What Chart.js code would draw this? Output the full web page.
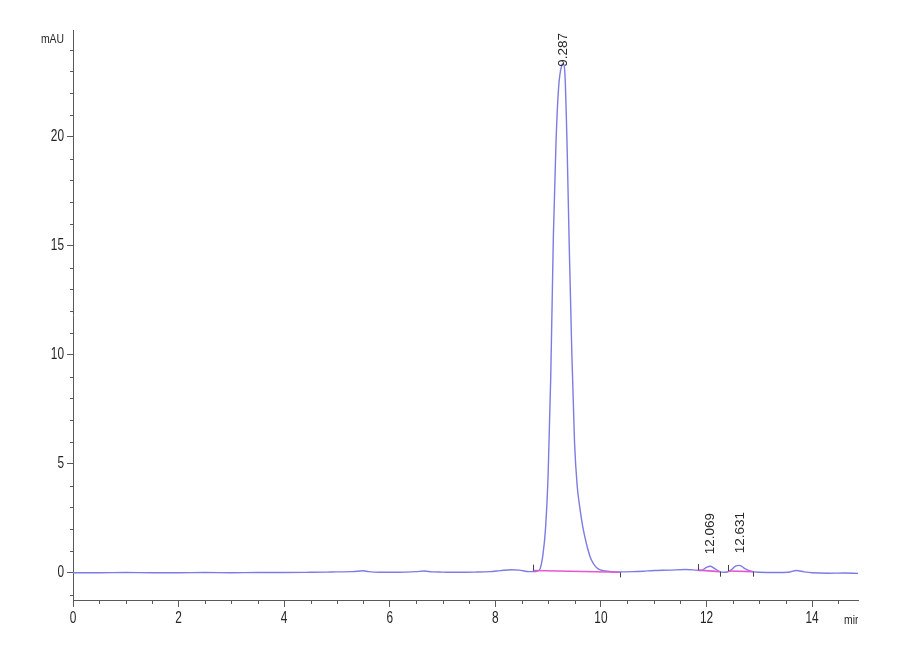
<!DOCTYPE html>
<html>
<head>
<meta charset="utf-8">
<title>Chromatogram</title>
<script src="https://cdn.jsdelivr.net/npm/chart.js@4.4.1/dist/chart.umd.min.js"></script>
<style>
  html, body { margin: 0; padding: 0; background: #fff; }
  #wrap { width: 900px; height: 660px; position: relative; }
</style>
</head>
<body>
<div id="wrap"><canvas id="chart"></canvas></div>
<script>
// ==================== Data ====================
const timeMin = [
  0, 0.5, 1.0, 1.5, 2.0, 2.5, 3.0, 3.5, 4.0, 4.5, 4.8, 5.0, 5.3, 5.5, 5.6, 5.8,
  6.0, 6.3, 6.5, 6.65, 6.8, 7.0, 7.3, 7.6, 7.9, 8.1, 8.3, 8.45, 8.6, 8.7,
  8.8, 8.85, 8.9, 8.95, 9.0, 9.05, 9.1, 9.15, 9.2, 9.25, 9.287, 9.32, 9.36, 9.4,
  9.45, 9.5, 9.55, 9.6, 9.65, 9.7, 9.75, 9.8, 9.85, 9.9, 9.95, 10.0, 10.1, 10.2,
  10.4, 10.6, 10.8, 11.0, 11.3, 11.6, 11.8, 11.9, 12.0, 12.07, 12.15, 12.25,
  12.35, 12.45, 12.55, 12.63, 12.72, 12.85, 13.0, 13.3, 13.55, 13.7, 13.85,
  14.0, 14.3, 14.6, 14.87
];
const signalMau = [
  0, 0, 0.01, 0, 0, 0.01, 0, 0.01, 0.01, 0.02, 0.03, 0.04, 0.05, 0.09, 0.05, 0.02,
  0.02, 0.03, 0.05, 0.08, 0.04, 0.03, 0.02, 0.03, 0.05, 0.1, 0.14, 0.12, 0.06, 0.05,
  0.08, 0.2, 0.8, 2.0, 4.5, 9.0, 15.5, 19.8, 22.3, 23.2, 23.35, 22.8, 19.5, 15.0,
  10.0, 6.0, 4.0, 3.0, 2.2, 1.6, 1.1, 0.7, 0.45, 0.28, 0.18, 0.12, 0.08, 0.05,
  0.04, 0.05, 0.07, 0.1, 0.12, 0.15, 0.12, 0.1, 0.25, 0.3, 0.2, 0.05,
  0.02, 0.1, 0.3, 0.34, 0.2, 0.06, 0.02, 0.01, 0.02, 0.1, 0.04,
  0, -0.02, -0.01, -0.03
];

// integration baselines: [startTime, startValue, endTime, endValue]
const peakBaselines = [
  [8.71, 0.1, 10.36, 0.02],
  [11.84, 0.12, 12.25, 0.05],
  [12.41, 0.08, 12.88, 0.05]
];
const peakLabels = ['9.287', '12.069', '12.631'];
const peakTimes = [9.287, 12.069, 12.631];
const peakHeights = [23.4, 0.3, 0.34];

const xTicks = [0, 2, 4, 6, 8, 10, 12, 14];
const yTicks = [0, 5, 10, 15, 20];
const xMinorStep = 0.5;
const yMinorStep = 1;

// ==================== Styling ====================
const axisColor = '#5a5a5a';
const textColor = '#262626';
const traceColor = 'rgb(124, 124, 228)';
const baselineColor = 'rgb(228, 88, 212)';
const plainFont = "'Liberation Sans', Arial, sans-serif";

// the original's axis fonts are condensed, so squeeze them horizontally
function narrowText(ctx, text, x, y, align, squeeze) {
  ctx.save();
  ctx.translate(x, y);
  ctx.scale(squeeze, 1);
  ctx.textAlign = align;
  ctx.fillText(text, 0, 0);
  ctx.restore();
}

// ==================== Plugin: labels, minor ticks, peak marks ====================
const chromPlugin = {
  id: 'chromPlugin',
  afterDraw(chart) {
    const ctx = chart.ctx;
    const xs = chart.scales.x;
    const ys = chart.scales.y;
    const area = chart.chartArea;

    ctx.save();
    ctx.strokeStyle = axisColor;
    ctx.lineWidth = 1;

    // minor ticks
    for (let t = xs.min; t <= xs.max + 1e-6; t += xMinorStep) {
      if (xTicks.includes(t)) continue;
      const px = Math.round(xs.getPixelForValue(t)) + 0.5;
      ctx.beginPath();
      ctx.moveTo(px, area.bottom);
      ctx.lineTo(px, area.bottom + 4);
      ctx.stroke();
    }
    for (let v = -1; v <= ys.max; v += yMinorStep) {
      if (yTicks.includes(v)) continue;
      const py = Math.round(ys.getPixelForValue(v)) + 0.5;
      ctx.beginPath();
      ctx.moveTo(area.left + 1, py);
      ctx.lineTo(area.left - 3, py);
      ctx.stroke();
    }

    // baseline start / end markers
    ctx.strokeStyle = '#444';
    peakBaselines.forEach(b => {
      const sx = Math.round(xs.getPixelForValue(b[0])) + 0.5;
      const sy = ys.getPixelForValue(b[1]);
      ctx.beginPath();
      ctx.moveTo(sx, sy);
      ctx.lineTo(sx, sy - 6);
      ctx.stroke();
      const ex = Math.round(xs.getPixelForValue(b[2])) + 0.5;
      const ey = ys.getPixelForValue(b[3]);
      ctx.beginPath();
      ctx.moveTo(ex, ey);
      ctx.lineTo(ex, ey + 5);
      ctx.stroke();
    });

    // tick labels
    ctx.fillStyle = textColor;
    ctx.font = '16px ' + plainFont;
    ctx.textBaseline = 'middle';
    xTicks.forEach(t => {
      narrowText(ctx, String(t), xs.getPixelForValue(t), area.bottom + 19, 'center', 0.74);
    });
    yTicks.forEach(v => {
      narrowText(ctx, String(v), area.left - 9, ys.getPixelForValue(v), 'right', 0.74);
    });

    // unit labels
    ctx.font = '13px ' + plainFont;
    narrowText(ctx, 'mAU', area.left - 9, area.top + 9, 'right', 0.8);
    ctx.save();
    ctx.beginPath();
    ctx.rect(0, area.bottom, area.right, 60);
    ctx.clip();
    narrowText(ctx, 'min', area.right - 14, area.bottom + 20, 'left', 0.8);
    ctx.restore();

    // peak retention time labels (rotated)
    ctx.font = '13.5px ' + plainFont;
    ctx.textAlign = 'left';
    ctx.textBaseline = 'middle';
    peakTimes.forEach((t, i) => {
      const px = xs.getPixelForValue(t);
      const py = ys.getPixelForValue(peakHeights[i]) - (i === 0 ? -4 : 12);
      ctx.save();
      ctx.translate(px, py);
      ctx.rotate(-Math.PI / 2);
      ctx.fillText(peakLabels[i], 0, 0);
      ctx.restore();
    });

    ctx.restore();
  }
};

// ==================== Chart ====================
const tracePoints = timeMin.map((t, i) => ({ x: t, y: signalMau[i] }));
const baselineSets = peakBaselines.map(b => ({
  data: [{ x: b[0], y: b[1] }, { x: b[2], y: b[3] }],
  borderColor: baselineColor,
  borderWidth: 1.6,
  pointRadius: 0,
  tension: 0
}));

const ctx = document.getElementById('chart').getContext('2d');
const chart = new Chart(ctx, {
  type: 'line',
  data: {
    datasets: [
      ...baselineSets,
      {
        data: tracePoints,
        borderColor: traceColor,
        borderWidth: 1.4,
        pointRadius: 0,
        cubicInterpolationMode: 'monotone'
      }
    ]
  },
  options: {
    responsive: true,
    maintainAspectRatio: false,
    animation: false,
    layout: { padding: { top: 30, right: 42, left: 0, bottom: 0 } },
    plugins: {
      legend: { display: false },
      tooltip: { enabled: false }
    },
    scales: {
      x: {
        type: 'linear',
        min: 0,
        max: 14.87,
        afterBuildTicks: s => { s.ticks = xTicks.map(v => ({ value: v })); },
        afterFit: s => { s.height = 60; },
        border: { display: true, color: axisColor, width: 1 },
        grid: { drawOnChartArea: false, drawTicks: true, tickLength: 7, color: axisColor },
        ticks: { display: false }
      },
      y: {
        type: 'linear',
        min: -1.25,
        max: 24.9,
        afterBuildTicks: s => { s.ticks = yTicks.map(v => ({ value: v })); },
        afterFit: s => { s.width = 73; },
        border: { display: true, color: axisColor, width: 1 },
        grid: { drawOnChartArea: false, drawTicks: true, tickLength: 6, color: axisColor },
        ticks: { display: false }
      }
    }
  },
  plugins: [chromPlugin]
});
</script>
</body>
</html>
